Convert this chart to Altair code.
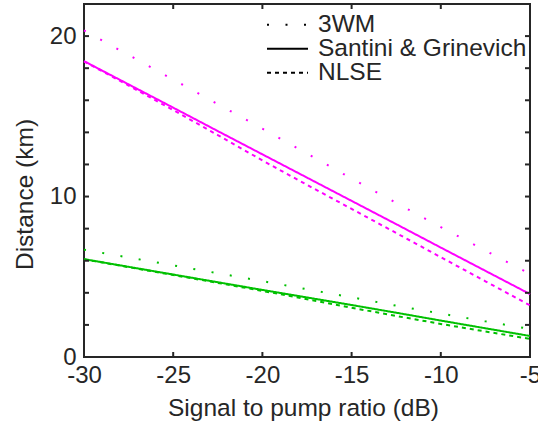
import altair as alt
import pandas as pd

# ---- data ----
snr = [-30, -27.5, -25, -22.5, -20, -17.5, -15, -12.5, -10, -7.5, -5]

mag_3wm = [20.35, 18.82, 17.29, 15.76, 14.23, 12.68, 11.12, 9.60, 8.10, 6.63, 5.18]
mag_sg = [18.44, 16.99, 15.54, 14.08, 12.63, 11.18, 9.73, 8.28, 6.82, 5.37, 3.92]
mag_nlse = [18.42, 16.92, 15.39, 13.83, 12.25, 10.73, 9.23, 7.73, 6.22, 4.72, 3.22]

grn_3wm = [6.69, 6.20, 5.71, 5.22, 4.73, 4.22, 3.72, 3.20, 2.71, 2.22, 1.75]
grn_sg = [6.10, 5.62, 5.14, 4.66, 4.18, 3.71, 3.24, 2.76, 2.27, 1.79, 1.31]
grn_nlse = [6.09, 5.60, 5.11, 4.62, 4.12, 3.60, 3.07, 2.56, 2.06, 1.59, 1.13]

models = ["3WM", "Santini & Grinevich", "NLSE"]
groups = ["magenta", "green"]
x_ticks = [-30, -25, -20, -15, -10, -5]
y_ticks = [0, 2, 4, 6, 8, 10, 12, 14, 16, 18, 20]
y_labels = [0, 10, 20]

rows = []
for group, series in (("magenta", (mag_3wm, mag_sg, mag_nlse)),
                      ("green", (grn_3wm, grn_sg, grn_nlse))):
    for model, vals in zip(models, series):
        for x, v in zip(snr, vals):
            rows.append({"snr": x, "dist": v, "model": model, "group": group})
df = pd.DataFrame(rows)

FONT = "Liberation Sans"
TXT = "#262626"
W, H = 446, 353

xscale = alt.Scale(domain=[-30, -5], nice=False, zero=False)
yscale = alt.Scale(domain=[0, 22], nice=False, zero=False)

xaxis = alt.Axis(title="Signal to pump ratio (dB)", values=x_ticks,
                 labelExpr="'' + datum.value", ticks=False, domain=False,
                 grid=False, labelFlush=False, labelOverlap=False,
                 labelPadding=6, titlePadding=9, titleX=219)
yaxis = alt.Axis(title="Distance (km)", values=y_labels, ticks=False,
                 domain=False, grid=False, labelFlush=False,
                 labelOverlap=False, labelPadding=8, titlePadding=12,
                 titleY=190)

X = alt.X("snr:Q", scale=xscale, axis=xaxis, title="Signal to pump ratio (dB)")
Y = alt.Y("dist:Q", scale=yscale, axis=yaxis, title="Distance (km)")

lines = alt.Chart(df).mark_line(strokeWidth=2, strokeCap="butt").encode(
    x=X,
    y=Y,
    color=alt.Color("group:N",
                    scale=alt.Scale(domain=groups, range=["#FF00FF", "#00C000"]),
                    legend=None),
    strokeDash=alt.StrokeDash(
        "model:N",
        scale=alt.Scale(domain=models, range=[[2, 16.5], [1, 0], [4, 4]]),
        legend=alt.Legend(title=None, orient="none", legendX=182, legendY=9,
                          symbolType="stroke", symbolSize=1681,
                          symbolStrokeWidth=2, symbolStrokeColor="black",
                          labelFontSize=24.5, labelColor=TXT, labelFont=FONT,
                          labelOffset=9, rowPadding=-4.5, clipHeight=23.5,
                          padding=0, labelLimit=400)),
)

xt = pd.DataFrame({"snr": x_ticks})
yt = pd.DataFrame({"dist": y_ticks})
tick_style = dict(color=TXT, strokeWidth=2)

bottom_ticks = alt.Chart(xt).mark_rule(**tick_style).encode(
    x=X, y=alt.value(H), y2=alt.value(H - 5))
top_ticks = alt.Chart(xt).mark_rule(**tick_style).encode(
    x=X, y=alt.value(0), y2=alt.value(5))
left_ticks = alt.Chart(yt).mark_rule(**tick_style).encode(
    y=Y, x=alt.value(0), x2=alt.value(5))
right_ticks = alt.Chart(yt).mark_rule(**tick_style).encode(
    y=Y, x=alt.value(W), x2=alt.value(W - 5))

chart = alt.layer(lines, bottom_ticks, top_ticks, left_ticks, right_ticks).properties(
    width=W, height=H,
    autosize=alt.AutoSizeParams(type="none"),
    padding={"left": 84, "top": 4, "right": 8, "bottom": 70},
).configure(font=FONT).configure_view(
    stroke=TXT, strokeWidth=2
).configure_axis(
    labelFont=FONT, titleFont=FONT, labelFontSize=24, titleFontSize=24.5,
    labelColor=TXT, titleColor=TXT, titleFontWeight="normal"
)

chart.save("out.html", embed_options={"renderer": "svg", "actions": False})
